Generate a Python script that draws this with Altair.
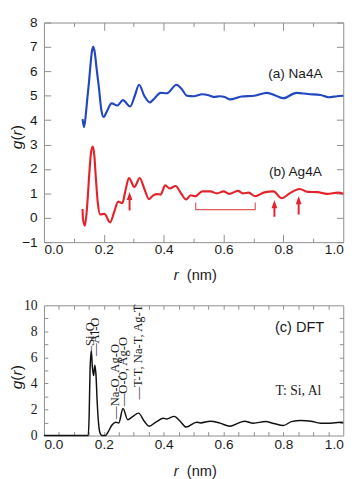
import altair as alt
import pandas as pd

# ---------------- data ----------------
na_r = [0.129, 0.134, 0.140, 0.145, 0.150, 0.155, 0.160, 0.165, 0.170, 0.176,
        0.183, 0.192, 0.199, 0.210, 0.226, 0.245, 0.264, 0.288, 0.303, 0.318,
        0.335, 0.354, 0.370, 0.389, 0.410, 0.443, 0.460, 0.478, 0.500, 0.529,
        0.550, 0.567, 0.588, 0.604, 0.621, 0.660, 0.703, 0.746, 0.775, 0.800,
        0.843, 0.882, 0.924, 0.951, 0.980, 1.000]
na_g = [4.04, 3.71, 4.25, 4.90, 5.50, 6.20, 6.80, 7.00, 6.75, 6.10,
        5.40, 4.40, 4.13, 4.35, 4.69, 4.60, 4.82, 4.56, 4.98, 5.45,
        5.00, 4.73, 4.90, 5.12, 5.10, 5.45, 5.28, 5.00, 4.98, 5.06,
        5.02, 4.95, 4.98, 4.95, 4.85, 4.97, 5.00, 5.12, 5.00, 4.90,
        5.12, 5.07, 5.03, 4.94, 4.98, 5.00]

ag_r = [0.129, 0.130, 0.137, 0.145, 0.152, 0.157, 0.163, 0.168, 0.173, 0.180,
        0.188, 0.202, 0.221, 0.235, 0.248, 0.262, 0.272, 0.284, 0.302, 0.320,
        0.335, 0.351, 0.365, 0.379, 0.390, 0.405, 0.420, 0.440, 0.458, 0.475,
        0.490, 0.506, 0.529, 0.556, 0.578, 0.600, 0.619, 0.648, 0.665, 0.684,
        0.706, 0.734, 0.767, 0.794, 0.821, 0.854, 0.881, 0.914, 0.946, 0.983,
        1.000]
ag_g = [0.36, 0.00, -0.32, 0.60, 1.90, 2.65, 2.92, 2.60, 1.70, 0.60,
        0.14, 0.16, -0.19, 0.25, 0.66, 0.60, 1.10, 1.63, 1.26, 1.63,
        1.20, 0.76, 0.92, 0.97, 0.95, 1.33, 1.20, 1.30, 1.00, 0.75,
        0.92, 0.88, 1.08, 1.08, 1.00, 1.08, 0.98, 1.10, 1.00, 1.03,
        0.88, 1.03, 1.08, 0.80, 1.00, 1.18, 1.06, 1.05, 0.98, 1.03,
        0.98]

dft_r = [0.000, 0.148, 0.151, 0.154, 0.158, 0.162, 0.166, 0.170, 0.174, 0.178,
         0.183, 0.188, 0.193, 0.205, 0.215, 0.226, 0.240, 0.250, 0.264, 0.280,
         0.296, 0.316, 0.335, 0.351, 0.375, 0.399, 0.410, 0.435, 0.455, 0.475,
         0.510, 0.523, 0.556, 0.588, 0.621, 0.670, 0.700, 0.740, 0.768, 0.800,
         0.827, 0.859, 0.892, 0.924, 0.957, 0.990, 1.000]
dft_g = [0.00, 0.00, 1.50, 5.00, 6.50, 5.20, 4.60, 5.40, 4.60, 2.50,
         0.80, 0.15, 0.00, 0.00, 0.30, 0.77, 1.02, 0.97, 2.07, 1.22,
         1.45, 1.72, 1.10, 0.72, 1.05, 1.32, 1.27, 1.47, 1.10, 0.65,
         1.02, 0.97, 1.10, 0.95, 0.72, 1.10, 0.95, 1.07, 0.92, 0.77,
         1.07, 1.15, 1.10, 0.95, 0.95, 1.02, 1.00]

series_names = ["Na4A", "Ag4A"]
series_colors = ["#2347c0", "#e3232b"]

# arrows in panel (b)
arrow_r = [0.286, 0.770, 0.851]
arrow_base = [0.30, 0.04, 0.13]
arrow_tip = [1.05, 0.72, 0.88]

# bracket in panel (b)
bracket_r = [0.507, 0.507, 0.706, 0.706]
bracket_g = [0.62, 0.33, 0.33, 0.62]

# panel labels
top_label_text = ["(a) Na4A", "(b) Ag4A"]
top_label_r = [0.84, 0.84]
top_label_g = [5.89, 1.87]

# DFT annotations
ann_text = ["\u2014Si-O", "\u2014Al-O", "\u2014Na-O, Ag-O", "\u2014O-O, Ag-O", "\u2014T-T, Na-T, Ag-T"]
ann_r = [0.155, 0.171, 0.237, 0.266, 0.313]
ann_g = [5.9, 6.1, 1.27, 2.24, 2.76]

# ticks
top_x_labels = [0.0, 0.2, 0.4, 0.6, 0.8, 1.0]
top_x_ticks = [0.1, 0.2, 0.3, 0.4, 0.5, 0.6, 0.7, 0.8, 0.9]
top_y_vals = [-1, 0, 1, 2, 3, 4, 5, 6, 7, 8]
bot_x_ticks = [0.05, 0.1, 0.15, 0.2, 0.25, 0.3, 0.35, 0.4, 0.45, 0.5,
               0.55, 0.6, 0.65, 0.7, 0.75, 0.8, 0.85, 0.9, 0.95]
bot_y_labels = [0, 2, 4, 6, 8, 10]
bot_y_ticks = [1, 2, 3, 4, 5, 6, 7, 8, 9]

# ---------------- layout ----------------
W = 308
H1 = 226
H2 = 134
FRAME = "#8c8c8c"
SANS = "Liberation Sans"
SERIF = "Liberation Serif"
TXT = "#1a1a1a"


def X(scale):
    return alt.X("r:Q", scale=scale, axis=None)


def Y(scale, field="g:Q"):
    return alt.Y(field, scale=scale, axis=None)


def tick_layers(data, xs, ys, W, H, xvals, yvals, xsize, ysize):
    noaxis = dict(labels=False, domain=False, title=None, grid=False, tickColor=FRAME, tickWidth=1)
    t1 = alt.Chart(data).mark_point(opacity=0, size=1).encode(
        x=alt.X("r:Q", scale=xs, axis=alt.Axis(orient="top", offset=-H, values=xvals, tickSize=xsize, **noaxis)),
        y=alt.Y("g:Q", scale=ys, axis=alt.Axis(orient="right", offset=-W, values=yvals, tickSize=ysize, **noaxis)),
    )
    t2 = alt.Chart(data).mark_point(opacity=0, size=1).encode(
        x=alt.X("r:Q", scale=xs, axis=alt.Axis(orient="bottom", offset=-H, values=xvals, tickSize=xsize, **noaxis)),
        y=alt.Y("g:Q", scale=ys, axis=alt.Axis(orient="left", offset=-W, values=yvals, tickSize=ysize, **noaxis)),
    )
    return [t1, t2]


def titles(H, ycenter, xoff):
    one = pd.DataFrame({"t": ["x"]})
    parts = []
    parts.append(alt.Chart(one).mark_text(text="r", font=SANS, fontSize=15, fontStyle="italic",
                                          align="center", baseline="middle", color=TXT)
                 .encode(x=alt.value(136), y=alt.value(H + xoff)))
    parts.append(alt.Chart(one).mark_text(text="(nm)", font=SANS, fontSize=15,
                                          align="left", baseline="middle", color=TXT)
                 .encode(x=alt.value(147), y=alt.value(H + xoff)))
    y0 = ycenter + 12.4
    pieces = [("g", "italic", 0.0), ("(", "normal", 8.9), ("r", "italic", 14.2), (")", "normal", 19.5)]
    for txt, style, dy in pieces:
        parts.append(alt.Chart(one).mark_text(text=txt, font=SANS, fontSize=16, fontStyle=style,
                                              angle=270, align="left", baseline="middle", color=TXT)
                     .encode(x=alt.value(-28), y=alt.value(y0 - dy)))
    return parts


# ---------------- top panel ----------------
df_top = pd.concat([
    pd.DataFrame({"r": na_r, "g": na_g, "s": series_names[0]}),
    pd.DataFrame({"r": ag_r, "g": ag_g, "s": series_names[1]}),
])
xs1 = alt.Scale(domain=[0, 1], nice=False, zero=False)
ys1 = alt.Scale(domain=[-1, 8], nice=False, zero=False)

top_main = alt.Chart(df_top).mark_line(interpolate="monotone", strokeWidth=2.2).encode(
    x=alt.X("r:Q", scale=xs1, axis=alt.Axis(values=top_x_labels, format=".1f", ticks=False, domain=False,
                                             labelPadding=1, title=None, labelFontSize=14, labelFont=SANS)),
    y=alt.Y("g:Q", scale=ys1, axis=alt.Axis(values=top_y_vals, format="d", ticks=False, domain=False,
                                             labelPadding=7, title=None, labelFontSize=14, labelFont=SANS)),
    color=alt.Color("s:N", scale=alt.Scale(domain=series_names, range=series_colors), legend=None),
)

df_arrow = pd.DataFrame({"r": arrow_r, "g": arrow_base, "g2": [t - 0.2 for t in arrow_tip],
                         "tip": [t - 0.16 for t in arrow_tip]})
arrow_shaft = alt.Chart(df_arrow).mark_rule(color=series_colors[1], strokeWidth=2).encode(
    x=X(xs1), y=Y(ys1), y2="g2:Q")
arrow_head = alt.Chart(df_arrow).mark_point(
    shape="M -0.7 1 L 0 -1 L 0.7 1 Z", filled=True, size=70, opacity=1, color=series_colors[1]).encode(
    x=X(xs1), y=Y(ys1, "tip:Q"))

df_br = pd.DataFrame({"r": bracket_r, "g": bracket_g, "o": [0, 1, 2, 3]})
bracket = alt.Chart(df_br).mark_line(color="#e05a5e", strokeWidth=1.2).encode(
    x=X(xs1), y=Y(ys1), order="o:Q")

df_tl = pd.DataFrame({"r": top_label_r, "g": top_label_g, "t": top_label_text})
top_labels = alt.Chart(df_tl).mark_text(font=SANS, fontSize=14, color=TXT).encode(
    x=X(xs1), y=Y(ys1), text="t:N")

top = alt.layer(
    top_main, bracket, arrow_shaft, arrow_head, top_labels,
    *tick_layers(df_top, xs1, ys1, W, H1, top_x_ticks, top_y_vals,
                 {"condition": {"test": "round(datum.value*10) % 2 == 0", "value": 8}, "value": 4}, 7),
    *titles(H1, 118, 34),
).resolve_axis(x="independent", y="independent").properties(width=W, height=H1)

# ---------------- bottom panel ----------------
df_dft = pd.DataFrame({"r": dft_r, "g": dft_g})
xs2 = alt.Scale(domain=[0, 1], nice=False, zero=False)
ys2 = alt.Scale(domain=[0, 10], nice=False, zero=False)

bot_main = alt.Chart(df_dft).mark_line(interpolate="monotone", strokeWidth=1.5, color="#111111").encode(
    x=alt.X("r:Q", scale=xs2, axis=alt.Axis(values=top_x_labels, format=".1f", ticks=False, domain=False,
                                             labelPadding=2, title=None, labelFontSize=14, labelFont=SANS)),
    y=alt.Y("g:Q", scale=ys2, axis=alt.Axis(values=bot_y_labels, format="d", ticks=False, domain=False,
                                             labelPadding=7, title=None, labelFontSize=14, labelFont=SERIF)),
)

df_ann = pd.DataFrame({"r": ann_r, "g": ann_g, "t": ann_text})
ann = alt.Chart(df_ann).mark_text(font=SERIF, fontSize=13, angle=270, align="left", baseline="middle",
                                  color=TXT).encode(x=X(xs2), y=Y(ys2), text="t:N")

df_bl = pd.DataFrame({"r": [0.854], "g": [8.36], "t": ["(c) DFT"]})
bot_label = alt.Chart(df_bl).mark_text(font=SANS, fontSize=15, color=TXT).encode(
    x=X(xs2), y=Y(ys2), text="t:N")
df_tn = pd.DataFrame({"r": [0.85], "g": [3.38], "t": ["T: Si, Al"]})
bot_note = alt.Chart(df_tn).mark_text(font=SERIF, fontSize=14, color=TXT).encode(
    x=X(xs2), y=Y(ys2), text="t:N")

bottom = alt.layer(
    bot_main, ann, bot_label, bot_note,
    *tick_layers(df_dft, xs2, ys2, W, H2, bot_x_ticks, bot_y_ticks, 4, 4),
    *titles(H2, 74, 37),
).resolve_axis(x="independent", y="independent").properties(width=W, height=H2)

chart = alt.vconcat(top, bottom, spacing=14).properties(
    padding={"left": 0, "top": 0, "right": 4, "bottom": 0}
).configure_view(stroke=FRAME, strokeWidth=1).configure_axis(
    grid=False, labelColor=TXT
)

chart.save("out.html", embed_options={"renderer": "svg", "actions": False})
